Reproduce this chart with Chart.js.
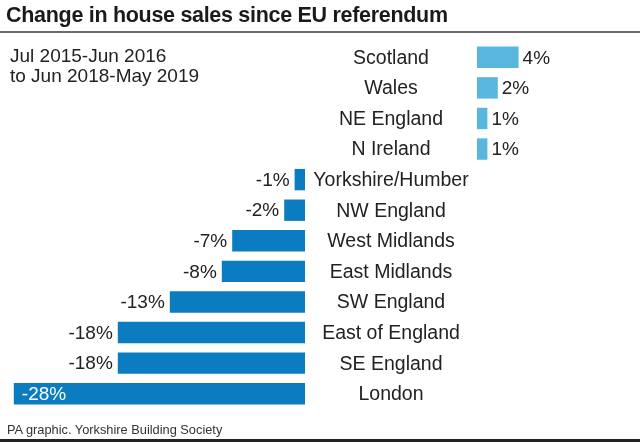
<!DOCTYPE html>
<html>
<head>
<meta charset="utf-8">
<script src="https://cdn.jsdelivr.net/npm/chart.js@4/dist/chart.umd.min.js"></script>
<style>
  html, body { margin: 0; padding: 0; background: #fff; }
  #wrap { position: relative; width: 640px; height: 442px; overflow: hidden; font-family: "Liberation Sans", Arial, sans-serif; color: #222; }
  #title { position: absolute; left: 6px; top: 3px; font-size: 21.5px; font-weight: bold; color: #1a1a1a; letter-spacing: -0.3px; white-space: nowrap; }
  #rule { position: absolute; left: 0; top: 31px; width: 640px; height: 2px; background: #6b6b6b; }
  #sub { position: absolute; left: 10px; top: 46px; font-size: 19px; line-height: 20px; color: #222; }
  #source { position: absolute; left: 7px; top: 422px; font-size: 12.8px; color: #333; }
  #bottom { position: absolute; left: 0; top: 439px; width: 640px; height: 3px; background: #222; }
  #chartBox { position: absolute; left: 0; top: 0; width: 640px; height: 442px; }
</style>
</head>
<body>
<div id="wrap">
  <div id="chartBox"><canvas id="chart" width="640" height="442"></canvas></div>
  <div id="title">Change in house sales since EU referendum</div>
  <div id="rule"></div>
  <div id="sub">Jul 2015-Jun 2016<br>to Jun 2018-May 2019</div>
  <div id="source">PA graphic. Yorkshire Building Society</div>
  <div id="bottom"></div>
</div>
<script>
// Regions and their change in house sales (%)
const regions = ['Scotland', 'Wales', 'NE England', 'N Ireland', 'Yorkshire/Humber', 'NW England',
  'West Midlands', 'East Midlands', 'SW England', 'East of England', 'SE England', 'London'];
const changes = [4, 2, 1, 1, -1, -2, -7, -8, -13, -18, -18, -28];

// Split into rising and falling series
const rises = changes.map(v => (v > 0 ? v : null));
const falls = changes.map(v => (v < 0 ? v : null));

// Layout: both halves share the same px-per-% but have their own zero line
const W = 640;
const pxPerPct = 10.4;
const negZero = 305;   // right edge of falling bars
const posZero = 477;   // left edge of rising bars
const span = W / pxPerPct;

// Draws the region names between the two zero lines, plus the value labels
const labelPlugin = {
  id: 'labels',
  afterDatasetsDraw(chart) {
    const ctx = chart.ctx;
    const y = chart.scales.y;
    const mid = (chart.scales.xNeg.getPixelForValue(0) + chart.scales.xPos.getPixelForValue(0)) / 2;
    ctx.save();
    ctx.textBaseline = 'middle';
    ctx.fillStyle = '#222';
    ctx.font = '19.5px "Liberation Sans", Arial, sans-serif';
    ctx.textAlign = 'center';
    regions.forEach((r, i) => ctx.fillText(r, mid, y.getPixelForTick(i) + 1));

    ctx.font = '19px "Liberation Sans", Arial, sans-serif';
    chart.data.datasets.forEach((ds, di) => {
      const meta = chart.getDatasetMeta(di);
      meta.data.forEach((bar, i) => {
        const v = ds.data[i];
        if (v === null) return;
        const txt = v + '%';
        if (v > 0) {
          ctx.fillStyle = '#222';
          ctx.textAlign = 'left';
          ctx.fillText(txt, bar.x + 4, bar.y + 1);
        } else if (v <= -25) {
          // long bar: label sits inside in white
          ctx.fillStyle = '#fff';
          ctx.textAlign = 'left';
          ctx.fillText(txt, bar.x + 8, bar.y + 1);
        } else {
          ctx.fillStyle = '#222';
          ctx.textAlign = 'right';
          ctx.fillText(txt, bar.x - 5, bar.y + 1);
        }
      });
    });
    ctx.restore();
  }
};

new Chart(document.getElementById('chart'), {
  type: 'bar',
  data: {
    labels: regions,
    datasets: [
      { data: rises, xAxisID: 'xPos', backgroundColor: '#58b6df', barPercentage: 0.7, categoryPercentage: 1 },
      { data: falls, xAxisID: 'xNeg', backgroundColor: '#0b7cc0', barPercentage: 0.7, categoryPercentage: 1 }
    ]
  },
  options: {
    indexAxis: 'y',
    responsive: false,
    animation: false,
    layout: { padding: { top: 42, bottom: 33, left: 0, right: 0 } },
    datasets: { bar: { grouped: false } },
    scales: {
      y: { display: false },
      xNeg: { type: 'linear', display: false, min: -negZero / pxPerPct, max: span - negZero / pxPerPct },
      xPos: { type: 'linear', display: false, min: -posZero / pxPerPct, max: span - posZero / pxPerPct }
    },
    plugins: { legend: { display: false }, tooltip: { enabled: false } }
  },
  plugins: [labelPlugin]
});
</script>
</body>
</html>
